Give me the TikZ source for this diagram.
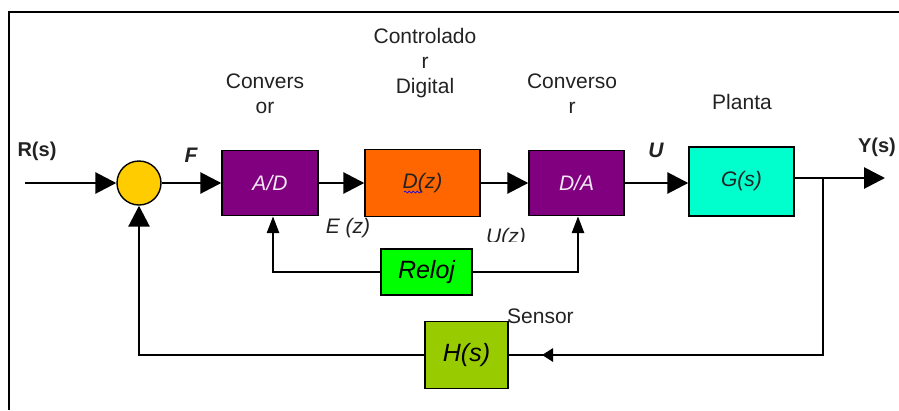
\documentclass[tikz,border=0pt]{standalone}
\usepackage{fontspec}
\setmainfont{Liberation Sans}
\usetikzlibrary{arrows.meta,decorations.pathmorphing}
\definecolor{sumY}{HTML}{FFCC00}
\definecolor{purp}{HTML}{800080}
\definecolor{orng}{HTML}{FF6600}
\definecolor{aqua}{HTML}{00FFCC}
\definecolor{lgreen}{HTML}{00FF00}
\definecolor{olive}{HTML}{99CC00}
\definecolor{wtxt}{HTML}{F4E8F4}
\definecolor{dtxt}{HTML}{222222}
\begin{document}
\begin{tikzpicture}[x=1pt,y=-1pt,
  blk/.style={draw=black, line width=1.4pt, inner sep=0pt, font=\fontsize{21}{24}\selectfont\itshape},
  lbl/.style={inner sep=0pt, align=center, text=dtxt, font=\fontsize{21}{25}\selectfont},
  conn/.style={line width=2.8pt},
  bigarr/.style={conn, -{Triangle[length=21pt,width=21pt]}},
  clkarr/.style={conn, -{Triangle[length=17pt,width=12pt]}},
  midarr/.style={conn, -{Triangle[length=11pt,width=13pt]}}
]
\useasboundingbox (0,0) rectangle (899,410);
% frame
\draw[line width=2pt] (9,410) -- (9,12) -- (899,12);

% blocks
\node[circle, draw=black, line width=1.4pt, fill=sumY, minimum size=44pt, inner sep=0pt] (sum) at (139,183) {};
\node[blk, fill=purp, text=wtxt, minimum width=96pt, minimum height=65pt] (AD) at (270,183) {A/D};
\node[blk, fill=orng, text=dtxt, minimum width=115pt, minimum height=67pt] (Dz) at (422.5,183) {D(z)};
\node[blk, fill=purp, text=wtxt, minimum width=95pt, minimum height=65pt] (DA) at (576.5,183) {D/A};
\node[blk, fill=aqua, text=dtxt, minimum width=105pt, minimum height=69pt] (G) at (741.5,181.5) {G(s)};
\node[blk, fill=lgreen, text=black, minimum width=91pt, minimum height=46pt, font=\fontsize{25}{28}\selectfont\itshape] (Rel) at (426.5,272) {Reloj};
\node[blk, fill=olive, text=black, minimum width=83pt, minimum height=67pt, font=\fontsize{25}{28}\selectfont\itshape] (H) at (466.5,355) {H(s)};

% spell-check squiggle under D
\draw[blue, line width=0.7pt, decorate, decoration={snake, amplitude=1pt, segment length=4pt}] (404,192) -- (422,192);

% coordinates
\coordinate (in) at (25,183);
\coordinate (br) at (823,178);
\coordinate (out) at (885,178);
\coordinate (fb) at (823,355);
\coordinate (mid) at (542,355);

% main path
\draw[bigarr] (in) -- (sum.west);
\draw[bigarr] (sum.east) -- (AD.west);
\draw[bigarr] (AD.east) -- (Dz.west);
\draw[bigarr] (Dz.east) -- (DA.west);
\draw[bigarr] (DA.east) -- (G.west |- DA.east);
\draw[bigarr] (G.east |- br) -- (out);

% clock
\draw[clkarr] (Rel.west) -| ([xshift=3pt]AD.south);
\draw[clkarr] (Rel.east) -| ([xshift=1.5pt]DA.south);

% feedback
\draw[conn] (br) -- (fb) -- (H.east);
\draw[midarr] (fb) -- (mid);
\draw[bigarr] (H.west) -| (sum.south);

% labels
\node[lbl, font=\fontsize{20}{24}\selectfont\bfseries] (Rs) at (37,151) {R(s)};
\node[lbl, font=\fontsize{21}{24}\selectfont\bfseries\itshape] (Fl) at (191,155) {F};
\node[lbl, font=\fontsize{21}{24}\selectfont\itshape] (Ez) at (348,228) {E (z)};
\begin{scope}
\clip (480,222) rectangle (540,241);
\node[lbl, font=\fontsize{21}{24}\selectfont\itshape] (Uz) at (506,238) {U(z)};
\end{scope}
\node[lbl, font=\fontsize{21}{24}\selectfont\bfseries\itshape] (Ul) at (656,150) {U};
\node[lbl, font=\fontsize{20}{24}\selectfont\bfseries] (Ys) at (877,147) {Y(s)};
\node[lbl, anchor=west] (Sen) at (507,316) {Sensor};
\node[lbl] (c1) at (265,94) {Convers\\or};
\node[lbl] (c2) at (425,63) {Controlado\\r\\Digital};
\node[lbl] (c3) at (572,94) {Converso\\r};
\node[lbl] (pl) at (742,102) {Planta};
\end{tikzpicture}
\end{document}
